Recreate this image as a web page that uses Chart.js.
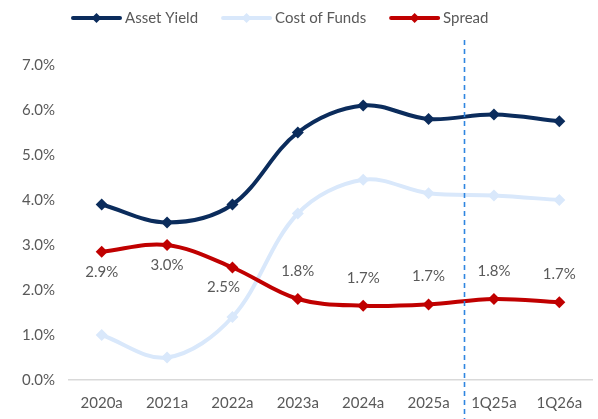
<!DOCTYPE html>
<html>
<head>
<meta charset="utf-8">
<script src="https://cdn.jsdelivr.net/npm/chart.js@4.4.1/dist/chart.umd.min.js"></script>
<style>
  html, body { margin: 0; padding: 0; background: #fff; }
  #wrap { width: 598px; height: 419px; position: relative; }
</style>
</head>
<body>
<div id="wrap"><canvas id="yieldChart"></canvas></div>
<script>
// Chart data
const categories = ['2020a', '2021a', '2022a', '2023a', '2024a', '2025a', '1Q25a', '1Q26a'];
const assetYield = [3.9, 3.5, 3.9, 5.5, 6.1, 5.8, 5.9, 5.75];
const costOfFunds = [1.0, 0.5, 1.4, 3.7, 4.45, 4.15, 4.1, 4.0];
const spread = [2.85, 3.0, 2.5, 1.8, 1.65, 1.68, 1.8, 1.73];
const spreadLabels = ['2.9%', '3.0%', '2.5%', '1.8%', '1.7%', '1.7%', '1.8%', '1.7%'];
const yTicks = [0, 1, 2, 3, 4, 5, 6, 7];

const FONT = 'Lato, "Liberation Sans", sans-serif';
const GREY = '#595959';
const NAVY = '#0b2c5c';
const LIGHT = '#d9e8fb';
const RED = '#c00000';

// Draw legend with line + diamond markers
const legendPlugin = {
  id: 'lineLegend',
  afterDraw(chart) {
    const ctx = chart.ctx;
    const items = [
      { text: 'Asset Yield', color: NAVY },
      { text: 'Cost of Funds', color: LIGHT },
      { text: 'Spread', color: RED }
    ];
    const y = 18;
    let x = 73;
    ctx.save();
    ctx.font = '15px ' + FONT;
    ctx.textBaseline = 'middle';
    items.forEach(item => {
      ctx.strokeStyle = item.color;
      ctx.lineWidth = 4;
      ctx.lineCap = 'round';
      ctx.beginPath();
      ctx.moveTo(x, y);
      ctx.lineTo(x + 47, y);
      ctx.stroke();
      ctx.fillStyle = item.color;
      ctx.beginPath();
      ctx.moveTo(x + 23.5, y - 5);
      ctx.lineTo(x + 28.5, y);
      ctx.lineTo(x + 23.5, y + 5);
      ctx.lineTo(x + 18.5, y);
      ctx.closePath();
      ctx.fill();
      ctx.fillStyle = GREY;
      ctx.fillText(item.text, x + 52, y);
      x += 52 + ctx.measureText(item.text).width + 25;
    });
    ctx.restore();
  }
};

// Dashed divider between annual and quarterly figures
const dividerPlugin = {
  id: 'divider',
  afterDatasetsDraw(chart) {
    const xs = chart.scales.x;
    const x = Math.round((xs.getPixelForValue(5) + xs.getPixelForValue(6)) / 2) + 3.5;
    const ctx = chart.ctx;
    ctx.save();
    ctx.strokeStyle = '#2f86e0';
    ctx.lineWidth = 1.6;
    ctx.setLineDash([5, 4]);
    ctx.beginPath();
    ctx.moveTo(x, 40);
    ctx.lineTo(x, chart.height);
    ctx.stroke();
    ctx.restore();
  }
};

// Spread value labels
const spreadLabelPlugin = {
  id: 'spreadLabels',
  afterDatasetsDraw(chart) {
    const meta = chart.getDatasetMeta(2);
    const ctx = chart.ctx;
    const below = [true, true, true, false, false, false, false, false];
    const shiftX = [0, 0, -9, 0, 0, 0, 0, 0];
    ctx.save();
    ctx.font = '15px ' + FONT;
    ctx.fillStyle = GREY;
    ctx.textAlign = 'center';
    ctx.textBaseline = 'middle';
    meta.data.forEach((pt, i) => {
      const y = below[i] ? pt.y + 20 : pt.y - 28;
      ctx.fillText(spreadLabels[i], pt.x + shiftX[i], y);
    });
    ctx.restore();
  }
};

function lineSet(label, data, color, order) {
  return {
    label: label,
    data: data,
    borderColor: color,
    backgroundColor: color,
    borderWidth: 4,
    pointStyle: 'rectRot',
    pointRadius: 6,
    pointHoverRadius: 6,
    pointBorderWidth: 0,
    tension: 0.35,
    fill: false,
    order: order
  };
}

new Chart(document.getElementById('yieldChart'), {
  type: 'line',
  data: {
    labels: categories,
    datasets: [
      lineSet('Asset Yield', assetYield, NAVY, 3),
      lineSet('Cost of Funds', costOfFunds, LIGHT, 2),
      lineSet('Spread', spread, RED, 1)
    ]
  },
  options: {
    responsive: true,
    maintainAspectRatio: false,
    animation: false,
    layout: { padding: { top: 65, right: -3, left: 0, bottom: 0 } },
    plugins: {
      legend: { display: false },
      tooltip: { enabled: false }
    },
    scales: {
      x: {
        offset: true,
        afterFit(axis) { axis.height = 39; },
        grid: { display: false, drawTicks: false },
        border: { display: true, color: '#d9d9d9', width: 1.5 },
        ticks: { color: GREY, font: { family: FONT, size: 15 }, padding: 14 }
      },
      y: {
        min: 0,
        max: 7,
        afterBuildTicks(axis) {
          axis.ticks = yTicks.map(v => ({ value: v }));
        },
        afterFit(axis) { axis.width = 69; },
        grid: { display: false, drawTicks: false },
        border: { display: false },
        ticks: {
          color: GREY,
          font: { family: FONT, size: 15 },
          padding: 14,
          callback: v => v.toFixed(1) + '%'
        }
      }
    }
  },
  plugins: [legendPlugin, dividerPlugin, spreadLabelPlugin]
});
</script>
</body>
</html>
